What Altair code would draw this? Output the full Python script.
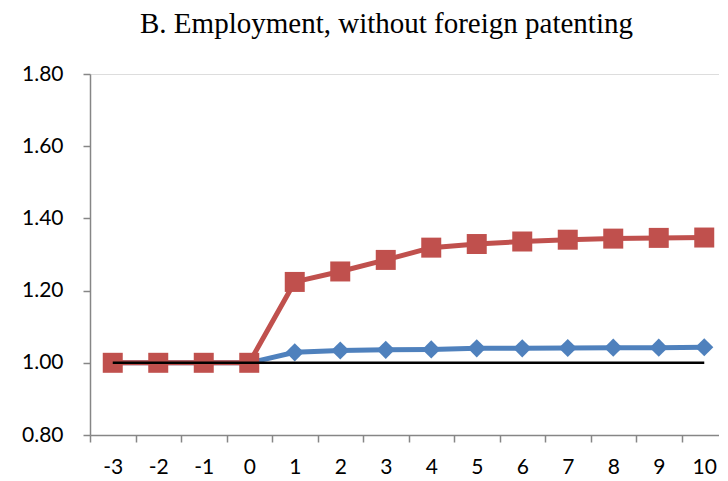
import altair as alt
import pandas as pd

periods = ["-3", "-2", "-1", "0", "1", "2", "3", "4", "5", "6", "7", "8", "9", "10"]
blue_values = [1.00, 1.00, 1.00, 1.00, 1.029, 1.034, 1.036, 1.037, 1.040, 1.040, 1.041, 1.042, 1.042, 1.043]
red_values = [1.00, 1.00, 1.00, 1.00, 1.224, 1.253, 1.285, 1.319, 1.329, 1.336, 1.341, 1.344, 1.346, 1.347]
y_ticks = [0.8, 1.0, 1.2, 1.4, 1.6, 1.8]
title_text = "B. Employment, without foreign patenting"

BLUE = "#4F81BD"
RED = "#C0504D"
AXIS_GRAY = "#868686"
LABEL_FONT = "Lato"

df = pd.DataFrame({
    "period": periods * 2,
    "value": blue_values + red_values,
    "series": ["blue"] * len(periods) + ["red"] * len(periods),
})

x_enc = alt.X(
    "period:O",
    sort=periods,
    bandPosition=0.5,
    scale=alt.Scale(type="band", paddingInner=0, paddingOuter=0),
    axis=alt.Axis(
        title=None,
        labelAngle=0,
        tickBand="extent",
        labelFont=LABEL_FONT,
        labelFontSize=21,
        labelColor="black",
        labelPadding=14,
        tickSize=7,
        tickColor=AXIS_GRAY,
        domainColor=AXIS_GRAY,
        domainWidth=1.5,
        tickWidth=1.5,
        grid=False,
    ),
)
y_enc = alt.Y(
    "value:Q",
    scale=alt.Scale(domain=[0.8, 1.8], nice=False, zero=False),
    axis=alt.Axis(
        title=None,
        values=y_ticks,
        format=".2f",
        labelFont=LABEL_FONT,
        labelFontSize=21,
        labelColor="black",
        labelPadding=20,
        tickSize=7,
        tickColor=AXIS_GRAY,
        domainColor=AXIS_GRAY,
        domainWidth=1.5,
        tickWidth=1.5,
        grid=False,
    ),
)

base = alt.Chart(df).encode(x=x_enc, y=y_enc)

blue_line = base.transform_filter(alt.datum.series == "blue").mark_line(color=BLUE, strokeWidth=5)
blue_pts = base.transform_filter(alt.datum.series == "blue").mark_point(
    shape="diamond", filled=True, size=330, color=BLUE, opacity=1
)
red_line = base.transform_filter(alt.datum.series == "red").mark_line(color=RED, strokeWidth=5)
red_pts = base.transform_filter(alt.datum.series == "red").mark_square(size=400, color=RED, opacity=1)
black_line = alt.Chart(df).transform_filter(alt.datum.series == "blue").mark_line(
    color="black", strokeWidth=2.5
).encode(x=x_enc, y=alt.datum(1.0))

chart = alt.layer(blue_line, blue_pts, red_line, red_pts, black_line).properties(
    width=637,
    height=361,
    title=alt.TitleParams(
        title_text,
        font="Liberation Serif",
        fontSize=29,
        fontWeight="normal",
        color="black",
        anchor="middle",
        dx=-22,
        offset=24,
    ),
    autosize=alt.AutoSizeParams(type="none"),
    padding={"left": 82, "top": 66, "right": -8, "bottom": 45},
).configure_view(stroke=None).configure(background="white")

chart.save("out.html", embed_options={"renderer": "svg", "actions": False})
